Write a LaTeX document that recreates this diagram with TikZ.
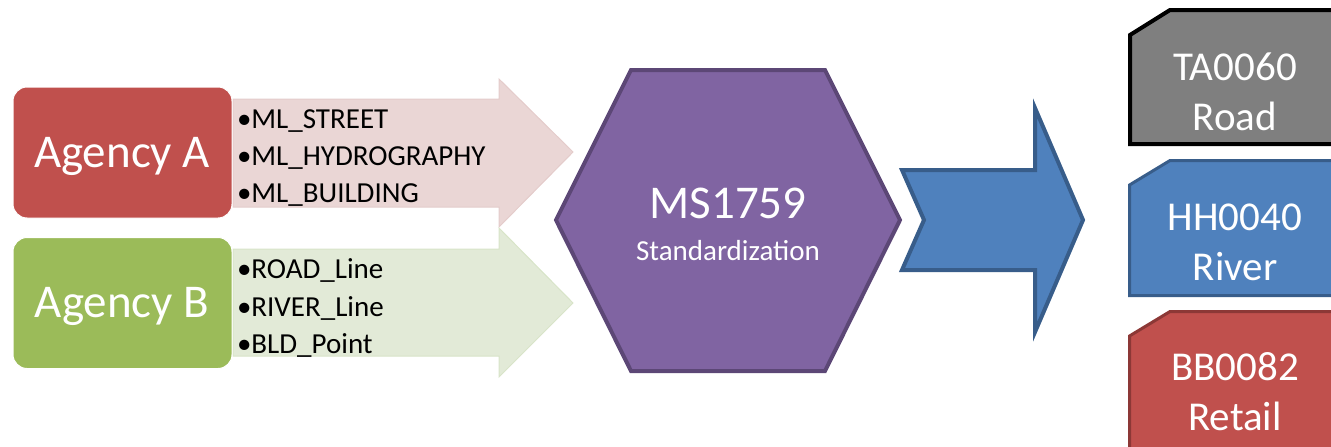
\documentclass[tikz,border=0pt]{standalone}
\usepackage{fontspec}
\setmainfont{Carlito}
\definecolor{redA}{HTML}{C0504D}
\definecolor{redD}{HTML}{8C3836}
\definecolor{greenB}{HTML}{9BBB59}
\definecolor{purpleF}{HTML}{8064A2}
\definecolor{purpleD}{HTML}{5C4776}
\definecolor{blueF}{HTML}{4F81BD}
\definecolor{blueD}{HTML}{385D8A}
\definecolor{grayF}{HTML}{7F7F7F}
\definecolor{pinkF}{RGB}{234,214,213}
\definecolor{pinkD}{RGB}{228,204,203}
\definecolor{lgreenF}{RGB}{226,234,215}
\definecolor{lgreenD}{RGB}{216,228,200}
\tikzset{
  agencybox/.style={rectangle, rounded corners=14pt, minimum width=219pt, minimum height=131pt, draw=white, line width=1pt},
  agtext/.style={anchor=base, text=white, font=\fontsize{47}{56}\selectfont},
  bullettext/.style={anchor=base west, text=black, font=\fontsize{29}{35}\selectfont},
  bigwhite/.style={anchor=base, text=white, font=\fontsize{47}{56}\selectfont},
  smallwhite/.style={anchor=base, text=white, font=\fontsize{29}{35}\selectfont},
  codetext/.style={anchor=base, text=white, font=\fontsize{41}{49}\selectfont},
  lightarrow/.style={line width=1pt, line join=miter},
}
\begin{document}
\begin{tikzpicture}[x=1pt,y=-1pt, every node/.style={inner sep=0pt, outer sep=0pt}]
\useasboundingbox (0,0) rectangle (1331,447);
\clip (0,0) rectangle (1331,447);

% light block arrows
\path[lightarrow, fill=pinkF, draw=pinkD] (233,99) -- (499,99) -- (499,79) -- (573,152) -- (499,227) -- (499,207) -- (233,207) -- cycle;
\path[lightarrow, fill=lgreenF, draw=lgreenD] (233,249) -- (499,249) -- (499,228) -- (573,303) -- (499,377) -- (499,356) -- (233,356) -- cycle;

% agency boxes
\node[agencybox, fill=redA] (agA) at (122.5,152.5) {};
\node[agencybox, fill=greenB] (agB) at (122.5,303) {};
\node[agtext] (agAt) at (122,167) {Agency A};
\node[agtext] (agBt) at (122,317) {Agency B};

% bullet lists
\node[bullettext] (a1) at (237,128) {•ML\_STREET};
\node[bullettext] (a2) at (237,165) {•ML\_HYDROGRAPHY};
\node[bullettext] (a3) at (237,202) {•ML\_BUILDING};
\node[bullettext] (b1) at (237,278) {•ROAD\_Line};
\node[bullettext] (b2) at (237,316) {•RIVER\_Line};
\node[bullettext] (b3) at (237,353) {•BLD\_Point};

% hexagon
\path[fill=purpleF, draw=purpleD, line width=4pt, line join=miter] (556,220) -- (631,70) -- (825,70) -- (900,220) -- (825,371) -- (631,371) -- cycle;
\node[bigwhite] (ms) at (728,218) {MS1759};
\node[smallwhite] (std) at (728,260) {Standardization};

% blue notched arrow
\path[fill=blueF, draw=blueD, line width=4pt, line join=miter] (902,170) -- (1035,170) -- (1035,108) -- (1083,220) -- (1035,332) -- (1035,270) -- (902,270) -- (924,220) -- cycle;

% output boxes
\path[fill=grayF, draw=black, line width=4pt, line join=miter] (1130,35) -- (1170,10) -- (1350,10) -- (1350,144) -- (1130,144) -- cycle;
\path[fill=blueF, draw=blueD, line width=3pt, line join=miter] (1129.5,185) -- (1170,160.5) -- (1350,160.5) -- (1350,295.5) -- (1129.5,295.5) -- cycle;
\path[fill=redA, draw=redD, line width=3pt, line join=miter] (1129.5,336) -- (1170,311.5) -- (1350,311.5) -- (1350,470) -- (1129.5,470) -- cycle;

\node[codetext] (ta) at (1235,80) {TA0060};
\node[codetext] (taR) at (1235,130) {Road};
\node[codetext] (hh) at (1235,230) {HH0040};
\node[codetext] (hhR) at (1235,280) {River};
\node[codetext] (bb) at (1235,380) {BB0082};
\node[codetext] (bbR) at (1235,430) {Retail};
\end{tikzpicture}
\end{document}
